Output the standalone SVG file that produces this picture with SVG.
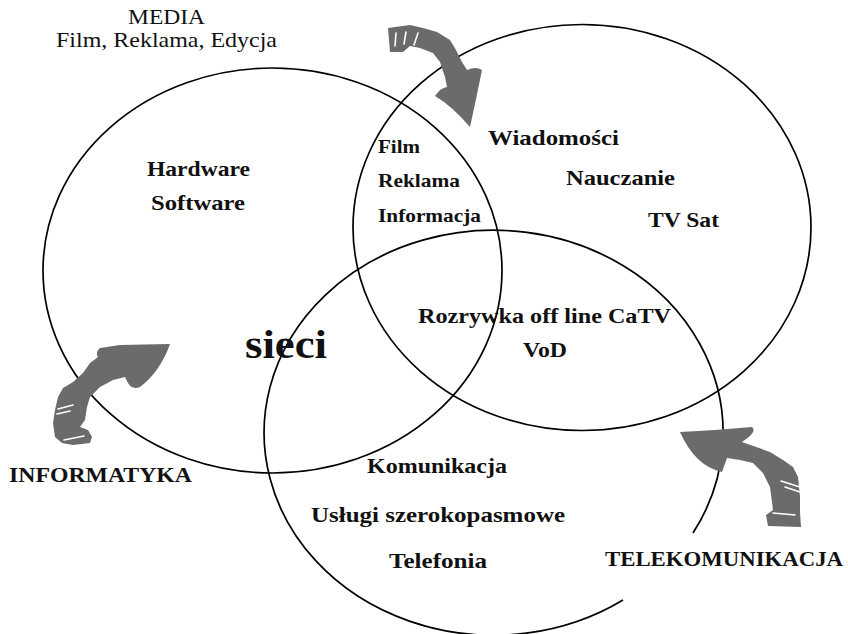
<svg xmlns="http://www.w3.org/2000/svg" width="848" height="634" viewBox="0 0 848 634">
<style>
.c{fill:none;stroke:#000;stroke-width:1.7}
.t{font-family:"Liberation Serif","Times New Roman",serif;font-weight:bold;font-size:21px;fill:#111}
.r{font-family:"Liberation Serif","Times New Roman",serif;font-size:21px;fill:#111}
.a{fill:#6b6b6b;stroke:none}
.s{fill:none;stroke:#fff;stroke-width:1.6;stroke-linecap:round}
</style>
<rect width="848" height="634" fill="#fff"/>
<g id="circles">
<ellipse id="informatyka-set" class="c" cx="272.5" cy="270.5" rx="229.5" ry="202.5"/>
<ellipse id="media-set" class="c" cx="582" cy="227.5" rx="229" ry="203"/>
<path id="telekom-set" class="c" d="M 623 600 A 229.5 202.5 0 1 1 693 533"/>
</g>
<g id="arrows">
<g id="arrow-media">
<path class="a" d="M388,28 L410,25 L423,28 L437,32 L450,40 L456,50 L462,62 L467,70 Q476,66 482,70 Q476,100 470,127 Q452,106 435,96 Q440,88 447,87 L445,77 L440,62 L433,53 L420,48 L410,46 L403,52 L390,52 Z"/>
<path class="s" d="M396,33 L395,46 M406,32 L404,44 M418,33 L414,45"/>
</g>
<g id="arrow-informatyka">
<path class="a" d="M100,348 L120,345 L170,344 Q160,372 140,387 Q132,390 128,383 L125,377 L113,380 L100,387 L90,397 L87,407 L85,420 L80,427 L88,430 L92,437 L90,443 L73,445 L62,443 L55,437 L53,423 L55,410 L58,397 L63,388 L73,382 L83,373 L90,363 L98,357 Q95,352 100,348 Z"/>
<path class="s" d="M58,409 L73,405 M57,414 L70,411 M64,440 L84,436"/>
</g>
<g id="arrow-telekom">
<path class="a" d="M680,432 L715,430 L752,427 Q758,432 742,442 L770,452 L783,460 L793,467 L798,477 L800,497 L800,512 L801,527 L768,526 L766,515 L773,510 L770,487 L763,473 L753,463 L740,460 L727,458 L722,472 Q695,466 680,432 Z"/>
<path class="s" d="M781,481 L800,487 M785,487 L800,492 M773,513 L795,515"/>
</g>
</g>
<g id="labels">
<text class="r" x="128" y="24" textLength="77" lengthAdjust="spacingAndGlyphs">MEDIA</text>
<text class="r" x="56" y="47" textLength="221" lengthAdjust="spacingAndGlyphs">Film, Reklama, Edycja</text>
<text class="t" x="147" y="176" textLength="103" lengthAdjust="spacingAndGlyphs">Hardware</text>
<text class="t" x="151" y="210" textLength="94" lengthAdjust="spacingAndGlyphs">Software</text>
<text class="t" x="378" y="153" textLength="42" lengthAdjust="spacingAndGlyphs" style="font-size:19px">Film</text>
<text class="t" x="378" y="187" textLength="82" lengthAdjust="spacingAndGlyphs" style="font-size:19px">Reklama</text>
<text class="t" x="378" y="222" textLength="103" lengthAdjust="spacingAndGlyphs" style="font-size:19px">Informacja</text>
<text class="t" x="488" y="145" textLength="131" lengthAdjust="spacingAndGlyphs">Wiadomości</text>
<text class="t" x="566" y="185" textLength="109" lengthAdjust="spacingAndGlyphs">Nauczanie</text>
<text class="t" x="648" y="227" textLength="71" lengthAdjust="spacingAndGlyphs">TV Sat</text>
<text class="t" x="418" y="323" textLength="253" lengthAdjust="spacingAndGlyphs">Rozrywka off line CaTV</text>
<text class="t" x="523" y="357" textLength="44" lengthAdjust="spacingAndGlyphs">VoD</text>
<text class="t" x="245" y="358" textLength="82" lengthAdjust="spacingAndGlyphs" style="font-size:40px">sieci</text>
<text class="t" x="367" y="473" textLength="140" lengthAdjust="spacingAndGlyphs">Komunikacja</text>
<text class="t" x="311" y="522" textLength="254" lengthAdjust="spacingAndGlyphs">Usługi szerokopasmowe</text>
<text class="t" x="389" y="568" textLength="98" lengthAdjust="spacingAndGlyphs">Telefonia</text>
<text class="t" x="9" y="482" textLength="183" lengthAdjust="spacingAndGlyphs">INFORMATYKA</text>
<text class="t" x="605" y="566" textLength="238" lengthAdjust="spacingAndGlyphs">TELEKOMUNIKACJA</text>
</g>
</svg>
